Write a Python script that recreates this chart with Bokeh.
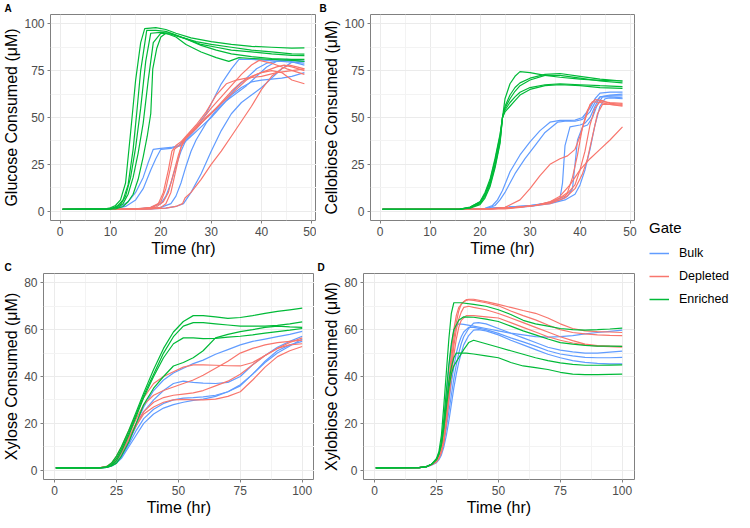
from bokeh.plotting import figure
from bokeh.models import Range1d, FixedTicker, Title, Legend, LegendItem
from bokeh.layouts import row, column
from bokeh.embed import file_html
from bokeh.resources import INLINE

# ---------------- data (time hr, consumed uM) ----------------
gates = ["Bulk", "Depleted", "Enriched"]
gate_colors = ["#619CFF", "#F8766D", "#00BA38"]

# Panel A: glucose
glucose_bulk = [
    [(0.5,1),(10,1.3),(12,2.5),(13.5,5),(15,10),(16.5,18),(17.5,26),(18.5,33),(20,33.5),(22,34),(23.5,35),(25,39),(27,45),(29,52),(30.5,60),(32,68),(34,76),(35.5,81),(38,81),(41,80.5),(44,80),(48.5,79)],
    [(0.5,1),(11,1.3),(13,2.5),(15,6),(16.5,12),(18,22),(19,28),(20,33),(22,33.5),(24,35),(26,40),(28,45),(30,50),(32,56),(34,62),(36,66),(38,69),(40,70),(42,70.5),(44,71),(46,72),(48.5,74)],
    [(0.5,1),(16,1.3),(18,2),(20,4),(21,8),(22,15),(23,24),(24,32),(25,38),(27,44),(29,50),(31,55),(33,60),(35,66),(37,71),(39,76),(41,79),(43,80),(45,80.5),(48.5,78)],
    [(0.5,1),(18,1.3),(20,2),(22,4),(23,8),(24,15),(25,24),(26,32),(27,38),(29,47),(31,54),(33,59),(35,63),(37,67),(39,72),(41,77),(43,80),(45,81),(48.5,80)],
    [(0.5,1),(18,1.2),(21,1.6),(23,2.5),(24.5,4),(26,10),(28,20),(30,32),(32,43),(34,52),(36,58),(38,62),(40,66),(42,71),(44,76),(46,79.5),(48.5,80)],
]
glucose_depleted = [
    [(0.5,1),(15,1.2),(18,2),(19.5,4),(20.5,10),(21.5,22),(22.2,32),(23,35),(24,37),(25,40),(27,46),(29,53),(31,62),(33,68),(35,70),(37,71),(40,72),(43,74),(46,75),(48.5,76)],
    [(0.5,1),(16,1.2),(18.5,2),(20,5),(21,12),(22,24),(22.7,33),(24,36),(26,42),(28,48),(30,55),(32,61),(34,67),(36,73),(38,78),(39.5,80.5),(42,79),(45,76),(48.5,73)],
    [(0.5,1),(17,1.2),(19,2),(20.5,5),(21.5,10),(22.5,20),(23.5,30),(24.5,38),(26,42),(28,47),(30,52),(32,58),(34,64),(36,69),(38,72),(40,74),(42,75),(44,74),(46,70),(48.5,68)],
    [(0.5,1),(18,1.2),(20,2),(21,4),(22,10),(23,22),(24,34),(25,39),(27,44),(29,50),(31,55),(33,60),(35,65),(37,70),(39,73),(41,75),(43,77),(44.5,78),(46,77),(48.5,75)],
    [(0.5,1),(18,1.2),(21,1.6),(23,2.5),(24.3,4),(24.8,7),(26,10),(28,17),(30,25),(32,32),(34,40),(36,48),(38,56),(40,65),(42,72),(44,76),(45.5,78),(47,77),(48.5,76)],
]
glucose_enriched = [
    [(0.5,1),(9,1.2),(10,1.8),(11,3),(12,6),(13,15),(14,42),(15,70),(16,90),(16.8,97.5),(19,98),(21,97),(23,95),(26,92.5),(30,90.5),(34,89),(38,88),(42,87.5),(46,87),(48.5,87.2)],
    [(0.5,1),(9.5,1.2),(10.5,1.8),(11.5,3),(12.5,6),(13.5,14),(14.5,33),(15.2,52),(16,75),(17.2,96.5),(19,96.5),(21,96),(24,93),(27,90.5),(30,89),(34,87.5),(38,86),(42,85),(46,84),(48.5,83.8)],
    [(0.5,1),(10,1.2),(11,2),(12,3.5),(13,8),(14,18),(15,34),(16,55),(17,80),(18,95),(20,95.5),(22,95),(25,92),(28,89),(31,87.5),(34,86),(38,85),(42,84),(46,83.2),(48.5,83)],
    [(0.5,1),(10,1.2),(11.5,2),(12.5,4),(13.5,9),(14.5,18),(15.5,31),(16.5,47),(17.5,70),(18.5,90),(20,95),(22,94.5),(25,92),(28,88.5),(31,86),(34,84),(38,82.5),(42,81.5),(46,81),(48.5,81)],
    [(0.5,1),(11,1.2),(12.5,2.5),(13.5,5),(14.5,9),(15.5,17),(16.5,29),(17.3,40),(18,52),(18.4,76),(19.2,87),(20,93),(21,95),(23,93),(25,89),(28,85),(31,82),(33.5,80),(35.5,82),(38,81.5),(42,81),(46,80.5),(48.5,80)],
]

# Panel B: cellobiose
cellobiose_bulk = [
    [(0.5,1),(18,1.1),(21,1.5),(22.5,3),(23.5,6),(24.5,11),(26,21),(28,30),(30,37),(32,43),(34,47.5),(36,48.5),(38,48.5),(39,48.6),(40.5,50),(42,55),(43,60),(44,63),(46,63.5),(48.5,63.5)],
    [(0.5,1),(18,1.1),(21.5,1.5),(23,3),(24,6),(25,10),(27,20),(29,28),(31,35),(33,42),(35.5,47.5),(37,48),(39,48),(40.5,49),(42,53),(43,58),(44,61),(46,61.5),(48.5,61.5)],
    [(0.5,1),(20,1.2),(25,2),(30,3),(33,4),(35,5.5),(36,7),(36.5,15),(37,35),(38,45),(40,46),(41,47),(42,50),(43,56),(44,61),(46,62),(48.5,62.5)],
    [(0.5,1),(20,1.2),(25,2),(30,3),(34,4.5),(36,6),(37.5,8),(38.5,12),(39,25),(39.5,38),(40.5,45),(41.5,46),(42.5,50),(43.5,57),(44.5,61),(46,61),(48.5,60.5)],
    [(0.5,1),(20,1.2),(25,1.8),(30,2.5),(34,4),(37,6),(39,9),(40,14),(41,22),(42,33),(43,46),(44,56),(45,60),(46,60.5),(48.5,60)],
]
cellobiose_depleted = [
    [(0.5,1),(22,1.2),(25,2),(28,6),(30,12),(32,19),(34,25),(36,28),(37.5,29.5),(39,33),(40,40),(40.8,47),(42,57),(43,59.5),(44.5,59),(46,57.5),(48.5,57)],
    [(0.5,1),(22,1.2),(27,2),(31,3),(34,5),(36,7),(37.5,10),(38.5,18),(39.5,30),(40.5,45),(41.5,54),(42.5,58.5),(44,58),(46,57),(48.5,56.5)],
    [(0.5,1),(22,1.2),(27,2),(31,3),(34,4),(37,7),(39,12),(40.5,20),(41.5,28),(42.5,40),(43.5,52),(44.5,57),(46,57),(48.5,56)],
    [(0.5,1),(22,1.2),(27,2),(31,3),(34,4.5),(37,8),(39,14),(40,22),(41,32),(42,46),(43,55),(44,58.5),(46,58),(48.5,57.5)],
    [(0.5,1),(25,1.2),(28,2),(31,3),(34,5),(36,8),(38,14),(40,22),(42,28),(44,33),(46,38),(48.5,45)],
]
cellobiose_t = [0.5,16,18,20,21,22,23,24,24.5,25,26,27,28,30,33,36,40,44,48.5]
cellobiose_enriched_v = [
    [1,1.1,2,5,9,15,25,38,50,60,68,72,74.5,74,72.5,71.5,70.5,69.8,69.5],
    [1,1.1,1.8,4,8,14,24,37,50,56,62,66,68.5,71,73,73.5,72,70.5,69.5],
    [1,1.1,1.6,3.5,7,13,23,36,50,55,60,64,67,70,72.5,72.5,71,69.5,68.5],
    [1,1.1,1.8,4.5,9,16,27,40,50,54,58,61,63.5,66,67.5,68,67.5,67,66.5],
    [1,1.1,2.2,5,10,17,28,41,50,53,56,59,62,65,67,67.5,67,66,65.5],
]

# Panel C: xylose
xylose_t = [0.5,18,21,23,25,27,30,33,36,40,44,48,52,56,60,65,70,75,80,85,90,95,100]
xylose_bulk_v = [
    [1,1,1.3,2,4,7,13,20,27,34,38.5,41.5,43.5,45.5,47,49.5,51.5,53.5,55,56,57,58,59.3],
    [1,1,1.3,2,3.5,6,12,19,25,30,34,37,38,37.5,37.2,37,37.5,40,45,49,52.5,55,57.2],
    [1,1,1.2,1.8,3,5.5,11,17,22,26,28.5,30,30.8,31,31.3,32,33.5,36,41,46,50,53,56],
    [1,1,1.2,1.8,3,5,10,15,20,24,26.5,28,29,29.8,30.3,31.5,33.5,36.5,41,46.5,51,53.5,55],
]
xylose_depleted_v = [
    [1,1,1.6,3,6,10,17,24,31,37,40,42,44,45,45,44.8,44.6,44.5,46,49,52,54.5,56.5],
    [1,1,1.5,2.5,5,8.5,15,22,28,32,34,35.5,37,38.5,40.5,43.5,46.5,50,52,53.5,54.5,55,55.5],
    [1,1,1.4,2.2,4.5,8,14,20,25,29,31,32,32.5,33,34,36,38,41,45,49,52,53.5,54],
    [1,1,1.3,2,4,7,13,19,24,27,29,30,30.2,30,30,30.3,31.5,33.5,38.5,44,48.5,51,52.8],
]
xylose_enriched_v = [
    [1,1,1.5,3,6,10,17,25,33,43,52,59,63.5,66,66,65.5,64.8,65.2,66,67,67.8,68.5,69.2],
    [1,1,1.3,2.5,5,9,16,24,32,41,50,57,61.5,63,63,62.5,62,61.5,61.5,61.5,61.8,62.5,63.3],
    [1,1,1.2,2,4,8,15,23,31,40,48,54,56.5,56.5,56.2,56.3,56.8,57.2,57.8,58.5,59.2,59.8,60.5],
    [1,1,1.2,1.8,3,6,12,20,28,35,40,44.5,46,48,51,56.5,58,59.2,60,61,61.5,61.2,61],
]

# Panel D: xylobiose
xylobiose_bulk = [
    [(0.5,1),(18,1.1),(21,1.5),(23,2.5),(25,4.5),(26,7),(27,12),(28,20),(29,32),(30,44),(31,53),(32,59),(33,61.5),(34,62.5),(36,62.3),(40,61.5),(45,60.5),(50,59.5),(55,58.5),(60,57.8),(65,57),(70,56.8),(75,57),(80,57.5),(85,58.2),(90,58.8),(95,59.3),(100,59.8)],
    [(0.5,1),(18,1.1),(21,1.5),(23,2.3),(25,3.8),(26,5.5),(27,8),(28,12),(29,18),(30,25),(31,32),(32,39),(33,45),(34,50),(35,54),(36,57),(38,60.5),(40,62.8),(42,63),(45,62.5),(50,60.5),(55,58.5),(60,56.5),(65,54.5),(70,52.5),(75,51.3),(80,50.5),(85,50),(90,50),(95,50.4),(100,50.8)],
    [(0.5,1),(18,1.1),(21,1.5),(23,2.3),(25,3.8),(26,5.5),(27,9),(28,14),(29,21),(30,29),(31,37),(32,44),(33,50),(34,54),(35,57),(36,59),(38,61),(40,61),(45,60),(50,58.4),(55,56.5),(60,54.8),(65,53),(70,51),(75,49.6),(80,48.8),(85,48.2),(90,48),(95,48),(100,48.2)],
    [(0.5,1),(18,1.1),(21,1.4),(23,2.1),(25,3.2),(26,4.5),(27,6.5),(28,10),(29,15),(30,21),(31,28),(32,35),(33,41),(34,46),(35,50),(36,53.5),(38,57.5),(40,59.8),(42,60),(45,59.5),(50,57.8),(55,55.5),(60,53.5),(65,51.5),(70,49.5),(75,48),(80,46.8),(85,46),(90,45.6),(95,45.4),(100,45.4)],
]
xylobiose_depleted = [
    [(0.5,1),(18,1.1),(21,1.5),(23,2.3),(25,4),(26,6),(27,9),(28,15),(29,25),(30,38),(31,50),(32,60),(33,66),(34,69.5),(36,72),(38,73),(40,73),(45,72),(50,70.8),(55,69.5),(60,68.2),(65,67),(70,65),(75,62.5),(80,60.5),(85,59.5),(90,59.2),(95,59),(100,58.8)],
    [(0.5,1),(18,1.1),(21,1.5),(23,2.3),(25,3.8),(26,5.5),(27,8),(28,13),(29,22),(30,34),(31,46),(32,56),(33,63),(34,68),(35,71),(37,72.8),(40,72.5),(45,71.5),(50,70.2),(55,68),(60,66),(65,64.2),(70,62),(75,60),(80,58.8),(85,58.2),(90,57.8),(95,57.6),(100,57.5)],
    [(0.5,1),(18,1.1),(21,1.5),(23,2.3),(25,3.8),(26,5.5),(27,8),(28,13),(29,21),(30,32),(31,43),(32,53),(33,60),(34,64.5),(35,67.5),(36,69.5),(38,70),(40,69.5),(45,68.5),(50,66.9),(55,65),(60,63),(65,61),(70,59),(75,57),(80,55.3),(85,53.8),(90,53.2),(95,53),(100,52.9)],
    [(0.5,1),(18,1.1),(21,1.5),(23,2.3),(25,3.5),(26,5),(27,7.5),(28,12),(29,20),(30,30),(31,40),(32,49),(33,56),(34,61),(35,64),(37,66),(40,66),(45,65.5),(50,65),(55,63),(60,61),(65,59),(70,57),(75,55.5),(80,54.3),(85,53.5),(90,53),(95,52.7),(100,52.5)],
]
xylobiose_enriched = [
    [(0.5,1),(18,1.1),(21,1.5),(23,2.5),(25,5),(26,8),(27,15),(28,28),(29,42),(30,56),(31,67),(32,71.5),(35,71.5),(40,70.8),(45,70),(50,68.5),(55,66.5),(60,64),(65,62.5),(70,61.5),(75,60.5),(80,60),(85,59.8),(90,60),(95,60.3),(100,60.7)],
    [(0.5,1),(18,1.1),(21,1.5),(23,2.5),(25,4.5),(26,7),(27,12),(28,22),(29,34),(30,45),(31,54),(32,60),(34,64),(36,65.5),(40,65.3),(45,64.5),(50,63.5),(55,61.5),(60,59.5),(65,57.8),(70,56),(75,54.5),(80,53.8),(85,53.3),(90,53),(95,53),(100,52.9)],
    [(0.5,1),(18,1.1),(21,1.5),(23,2.5),(25,4.5),(26,7),(27,11),(28,18),(29,27),(30,35),(31,41),(32,44.5),(34,48),(36,51.5),(38,54.5),(40,55.5),(45,54),(50,52.5),(55,51),(60,49.5),(65,48),(70,46.8),(75,45.8),(80,45.2),(85,44.8),(90,44.8),(95,44.9),(100,45)],
    [(0.5,1),(18,1.1),(21,1.5),(23,2.5),(25,4.5),(26,7),(27,11),(28,19),(29,29),(30,38),(31,44),(32,48),(33,50),(37,50),(40,49.6),(45,48.8),(50,48),(55,46),(60,44.5),(65,43.8),(70,43),(75,41.8),(80,41),(85,40.8),(90,40.8),(95,40.9),(100,41)],
]

# axis ticks
ticks_x48 = [0, 10, 20, 30, 40, 50]
minor_x48 = [5, 15, 25, 35, 45]
ticks_y100 = [0, 25, 50, 75, 100]
minor_y100 = [12.5, 37.5, 62.5, 87.5]
ticks_x100 = [0, 25, 50, 75, 100]
minor_x100 = [12.5, 37.5, 62.5, 87.5]
ticks_y80 = [0, 20, 40, 60, 80]
minor_y80 = [10, 30, 50, 70]

FONT = "Liberation Sans"


def from_pairs(lines):
    return [([a for a, _ in ln], [b for _, b in ln]) for ln in lines]


def from_grid(t, vals):
    return [(list(t), list(v)) for v in vals]


def make_panel(letter, ylabel, groups, xr, yr, xt, xm, yt, ym, left, fw, fh, top, bottom, right):
    p = figure(frame_width=fw, frame_height=fh, output_backend="svg", toolbar_location=None,
               x_range=Range1d(*xr), y_range=Range1d(*yr),
               min_border_left=left, min_border_right=right,
               min_border_top=top, min_border_bottom=bottom,
               background_fill_color="white", border_fill_color="white")
    p.title = Title(text=letter, align="left", offset=-(left - 3), standoff=1,
                    text_font=FONT, text_font_size="10px", text_font_style="bold",
                    text_color="black")
    p.outline_line_color = "#808080"
    p.outline_line_width = 1
    p.xaxis.ticker = FixedTicker(ticks=xt, minor_ticks=xm)
    p.yaxis.ticker = FixedTicker(ticks=yt, minor_ticks=ym)
    for ax in (p.xaxis, p.yaxis):
        ax.axis_line_color = None
        ax.major_tick_line_color = "#808080"
        ax.major_tick_out = 3
        ax.major_tick_in = 0
        ax.minor_tick_line_color = None
        ax.major_label_text_font = FONT
        ax.major_label_text_font_size = "12px"
        ax.major_label_text_color = "#4D4D4D"
        ax.axis_label_text_font = FONT
        ax.axis_label_text_font_size = "16px"
        ax.axis_label_text_font_style = "normal"
        ax.axis_label_text_color = "black"
        ax.major_label_standoff = 2
        ax.axis_label_standoff = 1
    p.xaxis.axis_label = "Time (hr)"
    p.yaxis.axis_label = ylabel
    p.grid.grid_line_color = "#EBEBEB"
    p.grid.grid_line_width = 1
    p.grid.minor_grid_line_color = "#F3F3F3"
    p.grid.minor_grid_line_width = 1
    for lines, col in groups:
        for t, v in lines:
            p.line(t, v, line_color=col, line_width=1.2)
    return p


FH = 206
TOP = 12
BOT = 38
pA = make_panel("A", "Glucose Consumed (\u03bcM)",
                [(from_pairs(glucose_bulk), gate_colors[0]),
                 (from_pairs(glucose_depleted), gate_colors[1]),
                 (from_pairs(glucose_enriched), gate_colors[2])],
                (-1.9, 50.9), (-5, 105), ticks_x48, minor_x48, ticks_y100, minor_y100,
                left=49, fw=266, fh=FH, top=TOP, bottom=BOT, right=0)
pB = make_panel("B", "Cellobiose Consumed (\u03bcM)",
                [(from_pairs(cellobiose_bulk), gate_colors[0]),
                 (from_pairs(cellobiose_depleted), gate_colors[1]),
                 (from_grid(cellobiose_t, cellobiose_enriched_v), gate_colors[2])],
                (-1.9, 50.9), (-5, 105), ticks_x48, minor_x48, ticks_y100, minor_y100,
                left=54, fw=264, fh=FH, top=TOP, bottom=BOT, right=3)
pC = make_panel("C", "Xylose Consumed (\u03bcM)",
                [(from_grid(xylose_t, xylose_bulk_v), gate_colors[0]),
                 (from_grid(xylose_t, xylose_depleted_v), gate_colors[1]),
                 (from_grid(xylose_t, xylose_enriched_v), gate_colors[2])],
                (-4.475, 104.975), (-4, 84), ticks_x100, minor_x100, ticks_y80, minor_y80,
                left=42, fw=271, fh=FH, top=TOP, bottom=BOT, right=0)
pD = make_panel("D", "Xylobiose Consumed (\u03bcM)",
                [(from_pairs(xylobiose_bulk), gate_colors[0]),
                 (from_pairs(xylobiose_depleted), gate_colors[1]),
                 (from_pairs(xylobiose_enriched), gate_colors[2])],
                (-4.475, 104.975), (-4, 84), ticks_x100, minor_x100, ticks_y80, minor_y80,
                left=49, fw=271, fh=FH, top=TOP, bottom=BOT, right=3)

# legend panel
total_h = 2 * (TOP + FH + BOT)
pL = figure(width=98, height=total_h, output_backend="svg", toolbar_location=None,
            x_range=Range1d(0, 1), y_range=Range1d(0, 1), min_border=0,
            outline_line_color=None)
pL.axis.visible = False
pL.grid.visible = False
items = []
for g, c in zip(gates, gate_colors):
    r = pL.line([5, 6], [5, 6], line_color=c, line_width=1.5)
    items.append(LegendItem(label=g, renderers=[r]))
leg = Legend(items=items, title="Gate", location=(12, 204),
             title_text_font=FONT, title_text_font_size="15px", title_text_font_style="normal",
             title_text_color="black", title_standoff=8,
             label_text_font=FONT, label_text_font_size="12.5px", label_text_color="black",
             glyph_width=20, glyph_height=18, label_height=18, label_standoff=10, spacing=5,
             padding=0, margin=0, border_line_color=None, background_fill_alpha=0)
pL.add_layout(leg, "center")

layout = row(column(row(pA, pB), row(pC, pD)), pL)

html = file_html(layout, INLINE)
open("out.html", "w").write(html)
